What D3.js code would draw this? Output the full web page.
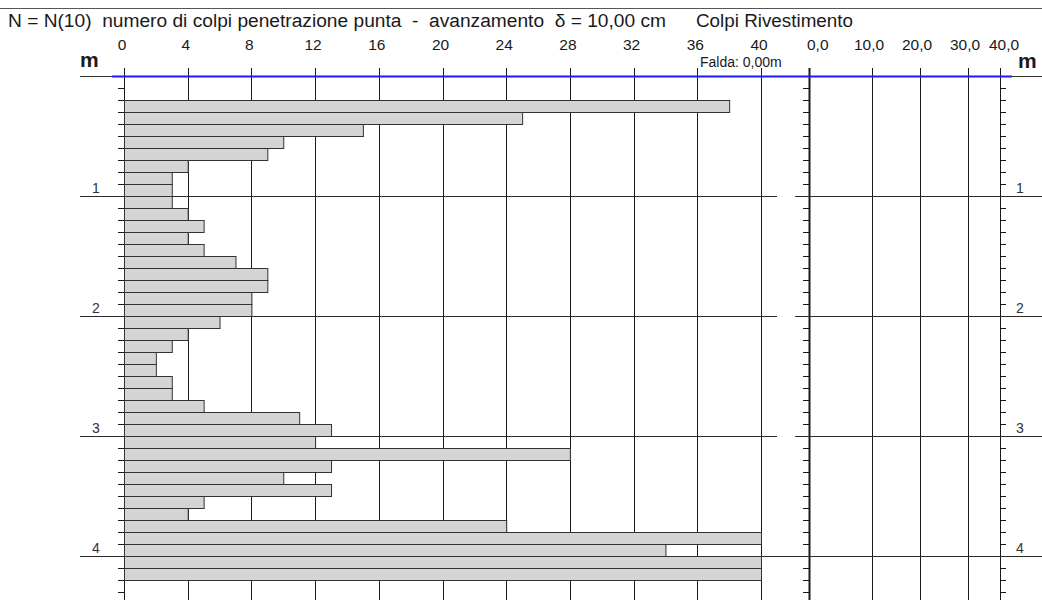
<!DOCTYPE html>
<html>
<head>
<meta charset="utf-8">
<script src="https://cdn.jsdelivr.net/npm/d3@7"></script>
<style>
  html, body { margin: 0; padding: 0; background: #fff; }
  svg { display: block; font-family: Arial, "Liberation Sans", sans-serif; }
</style>
</head>
<body>
<svg id="chart" width="1042" height="600"></svg>
<script>
// Layer tops (m) of each 10 cm penetration step
const layerTop = [0.2, 0.3, 0.4, 0.5, 0.6, 0.7, 0.8, 0.9, 1.0, 1.1,
                  1.2, 1.3, 1.4, 1.5, 1.6, 1.7, 1.8, 1.9, 2.0, 2.1,
                  2.2, 2.3, 2.4, 2.5, 2.6, 2.7, 2.8, 2.9, 3.0, 3.1,
                  3.2, 3.3, 3.4, 3.5, 3.6, 3.7, 3.8, 3.9, 4.0, 4.1];
// N(10): blows for each step
const colpi = [38, 25, 15, 10, 9, 4, 3, 3, 3, 4,
               5, 4, 5, 7, 9, 9, 8, 8, 6, 4,
               3, 2, 2, 3, 3, 5, 11, 13, 12, 28,
               13, 10, 13, 5, 4, 24, 40, 34, 40, 40];
const layerStep = 0.1;

// Axis ticks
const colpiTicks = [0, 4, 8, 12, 16, 20, 24, 28, 32, 36, 40];
const rivTicks = [0, 10, 20, 30, 40];
const rivLabels = ["0,0", "10,0", "20,0", "30,0", "40,0"];
const depthMajor = [1, 2, 3, 4];
const depthMinor = [0.1, 0.2, 0.3, 0.4, 0.5, 0.6, 0.7, 0.8, 0.9, 1.0,
                    1.1, 1.2, 1.3, 1.4, 1.5, 1.6, 1.7, 1.8, 1.9, 2.0,
                    2.1, 2.2, 2.3, 2.4, 2.5, 2.6, 2.7, 2.8, 2.9, 3.0,
                    3.1, 3.2, 3.3, 3.4, 3.5, 3.6, 3.7, 3.8, 3.9, 4.0,
                    4.1, 4.2, 4.3];
const waterTable = 0.0;

const titleMain = "N = N(10)  numero di colpi penetrazione punta  -  avanzamento  \u03B4 = 10,00 cm";
const titleRiv = "Colpi Rivestimento";

const svg = d3.select("#chart");
const ink = "#1a1a1a";

// Scales
const y = d3.scaleLinear().domain([0, 4.4]).range([76, 604]);
const x = d3.scaleLinear().domain([0, 40]).range([124, 761]);
const xr = d3.scaleLinear().domain([0, 10, 20, 30, 40]).range([809, 872, 920, 968, 1000]);
const topY = 68, botY = 600;

// Header rule and title
svg.append("line").attr("x1", 0).attr("x2", 1042).attr("y1", 8.5).attr("y2", 8.5)
  .attr("stroke", "#555").attr("stroke-width", 1);
svg.append("text").attr("x", 8).attr("y", 27).attr("font-size", 18)
  .attr("textLength", 658).attr("lengthAdjust", "spacingAndGlyphs")
  .attr("fill", ink).style("white-space", "pre").text(titleMain);
svg.append("text").attr("x", 696).attr("y", 27).attr("font-size", 18)
  .attr("textLength", 157).attr("lengthAdjust", "spacingAndGlyphs")
  .attr("fill", ink).text(titleRiv);

// Vertical grid, left panel
svg.append("g").selectAll("line").data(colpiTicks).join("line")
  .attr("x1", d => Math.round(x(d)) + 0.5).attr("x2", d => Math.round(x(d)) + 0.5)
  .attr("y1", topY).attr("y2", botY)
  .attr("stroke", ink).attr("stroke-width", 1);

// Vertical grid, right panel
svg.append("g").selectAll("line").data(rivTicks).join("line")
  .attr("x1", d => Math.round(xr(d)) + 0.5).attr("x2", d => Math.round(xr(d)) + 0.5)
  .attr("y1", topY).attr("y2", botY)
  .attr("stroke", ink).attr("stroke-width", (d, i) => i === 0 ? 2 : 1);

// Minor depth ticks
const minor = svg.append("g").attr("stroke", ink).attr("stroke-width", 1);
minor.selectAll("line.l").data(depthMinor).join("line").attr("class", "l")
  .attr("x1", x(0) - 6).attr("x2", x(0))
  .attr("y1", d => Math.round(y(d)) + 0.5).attr("y2", d => Math.round(y(d)) + 0.5);
minor.selectAll("line.r1").data(depthMinor).join("line").attr("class", "r1")
  .attr("x1", xr(0) - 6).attr("x2", xr(0))
  .attr("y1", d => Math.round(y(d)) + 0.5).attr("y2", d => Math.round(y(d)) + 0.5);
minor.selectAll("line.r2").data(depthMinor).join("line").attr("class", "r2")
  .attr("x1", xr(40)).attr("x2", xr(40) + 6)
  .attr("y1", d => Math.round(y(d)) + 0.5).attr("y2", d => Math.round(y(d)) + 0.5);

// Major depth rules
const major = svg.append("g").attr("stroke", "#2a2a2a").attr("stroke-width", 1);
major.selectAll("line.l").data(depthMajor).join("line").attr("class", "l")
  .attr("x1", 80).attr("x2", 777)
  .attr("y1", d => Math.round(y(d)) + 0.5).attr("y2", d => Math.round(y(d)) + 0.5);
major.selectAll("line.r").data(depthMajor).join("line").attr("class", "r")
  .attr("x1", d => d === 4 ? 776 : 795).attr("x2", 1042)
  .attr("y1", d => Math.round(y(d)) + 0.5).attr("y2", d => Math.round(y(d)) + 0.5);

// Bars N(10)
svg.append("g").selectAll("rect").data(colpi).join("rect")
  .attr("x", x(0) + 0.5)
  .attr("y", (d, i) => Math.round(y(layerTop[i])) + 0.5)
  .attr("width", d => x(d) - x(0))
  .attr("height", (d, i) => y(layerTop[i] + layerStep) - y(layerTop[i]))
  .attr("fill", "#d4d4d4").attr("stroke", "#333").attr("stroke-width", 1);

// Water table line at surface
const wy = Math.round(y(waterTable)) + 0.5;
svg.append("line").attr("x1", 80).attr("x2", 112).attr("y1", wy).attr("y2", wy)
  .attr("stroke", "#333");
svg.append("line").attr("x1", 1012).attr("x2", 1042).attr("y1", wy).attr("y2", wy)
  .attr("stroke", "#333");
svg.append("line").attr("x1", 112).attr("x2", 1012).attr("y1", wy).attr("y2", wy)
  .attr("stroke", "#1a1aff").attr("stroke-width", 2);

// Tick labels, top
svg.append("g").selectAll("text").data(colpiTicks).join("text")
  .attr("x", d => x(d) - 2).attr("y", 50).attr("text-anchor", "middle")
  .attr("font-size", 15.5).attr("fill", ink).text(d => d);
svg.append("g").selectAll("text").data(rivTicks).join("text")
  .attr("x", (d, i) => i === 0 ? xr(d) - 2 : xr(d) - 3 + (i === 4 ? 7 : 0))
  .attr("y", 50).attr("text-anchor", (d, i) => i === 0 ? "start" : "middle")
  .attr("font-size", 15.5).attr("fill", ink).text((d, i) => rivLabels[i]);

// Unit labels
svg.append("text").attr("x", 80).attr("y", 67).attr("font-size", 21)
  .attr("font-weight", "bold").attr("fill", ink).text("m");
svg.append("text").attr("x", 1018).attr("y", 68).attr("font-size", 21)
  .attr("font-weight", "bold").attr("fill", ink).text("m");

// Water table label
svg.append("text").attr("x", 700).attr("y", 67).attr("font-size", 14)
  .attr("fill", ink).text("Falda: " + d3.format(".2f")(waterTable).replace(".", ",") + "m");

// Depth labels
svg.append("g").selectAll("text").data(depthMajor).join("text")
  .attr("x", 96).attr("y", d => y(d) - 3.5).attr("text-anchor", "middle")
  .attr("font-size", 14).attr("fill", "#333").text(d => d);
svg.append("g").selectAll("text").data(depthMajor).join("text")
  .attr("x", 1020).attr("y", d => y(d) - 3.5).attr("text-anchor", "middle")
  .attr("font-size", 14).attr("fill", "#333").text(d => d);
</script>
</body>
</html>
